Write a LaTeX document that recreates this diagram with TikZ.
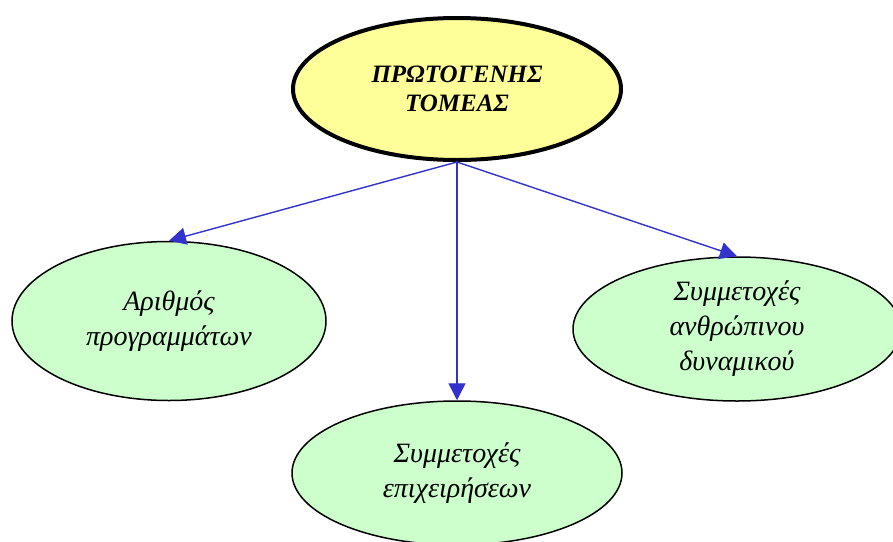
\documentclass[tikz,border=0pt]{standalone}
\usepackage{fontspec}
\setmainfont{Liberation Serif}
\usetikzlibrary{shapes.geometric,arrows.meta}
\definecolor{topfill}{HTML}{FFFF99}
\definecolor{leaffill}{HTML}{CCFFCC}
\definecolor{arrowblue}{HTML}{3333CC}
\begin{document}
\begin{tikzpicture}[x=1pt,y=1pt,
  rootbox/.style={ellipse,draw=black,line width=4pt,fill=topfill,inner sep=0pt,
    minimum width=328pt,minimum height=142pt,align=center,
    font=\fontsize{25}{29}\selectfont\bfseries\itshape},
  leafbox/.style={ellipse,draw=black,line width=1.5pt,fill=leaffill,inner sep=0pt,
    align=center,font=\fontsize{28}{35}\selectfont\itshape},
  link/.style={draw=arrowblue,line width=1.4pt,
    -{Triangle[length=17pt,width=17pt]},arrowblue}]
\useasboundingbox (0,0) rectangle (893,-541);
\clip (0,0) rectangle (893,-541);
\node[rootbox] (root) at (457,-89) {ΠΡΩΤΟΓΕΝΗΣ\\ΤΟΜΕΑΣ};
\node[leafbox,minimum width=314pt,minimum height=159pt] (left) at (169,-321)
  {Αριθμός\\προγραμμάτων};
\node[leafbox,minimum width=328pt,minimum height=144pt] (right) at (737,-329)
  {Συμμετοχές\\ανθρώπινου\\δυναμικού};
\node[leafbox,minimum width=330pt,minimum height=144pt] (bottom) at (457,-473)
  {Συμμετοχές\\επιχειρήσεων};
\draw[link] (root.south) -- (left.north);
\draw[link] (root.south) -- (right.north);
\draw[link] (root.south) -- (bottom.north);
\end{tikzpicture}
\end{document}
